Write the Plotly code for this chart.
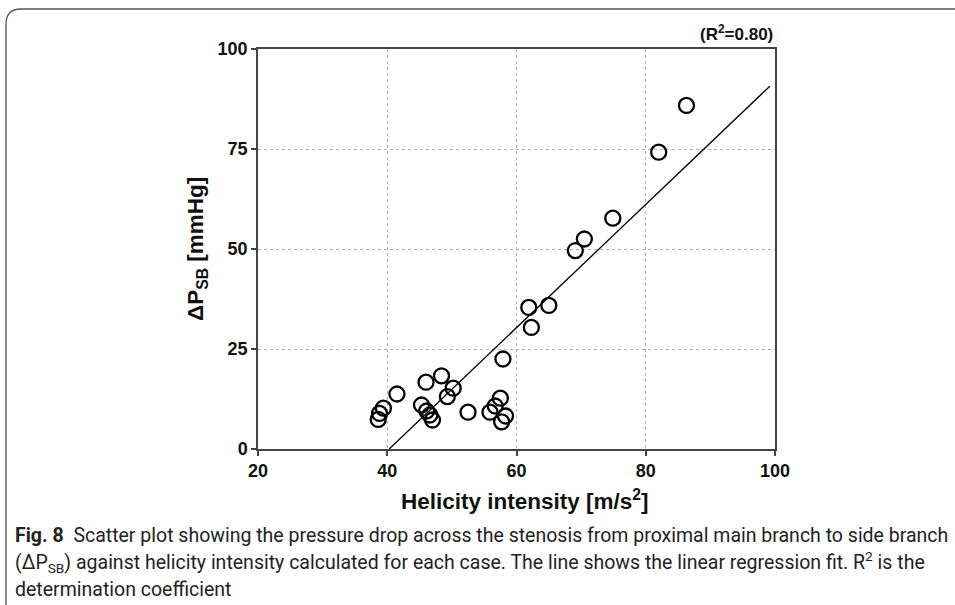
import plotly.graph_objects as go

helicity = [38.6, 38.8, 39.4, 41.5, 45.3, 46.0, 46.1, 46.6, 47.0, 48.4, 49.3, 50.2,
            52.5, 55.9, 56.7, 57.5, 57.7, 58.3, 57.9, 61.9, 62.3, 65.0,
            69.1, 70.5, 74.9, 82.0, 86.3]
dp_sb = [7.4, 8.9, 10.2, 13.75, 11.0, 16.7, 9.5, 8.5, 7.25, 18.3, 13.1, 15.2,
         9.2, 9.2, 10.75, 12.7, 6.8, 8.25, 22.5, 35.4, 30.4, 35.9,
         49.6, 52.5, 57.7, 74.2, 85.9]
fit_x = [40.3, 99.2]
fit_y = [0.0, 90.7]
x_ticks = [20, 40, 60, 80, 100]
y_ticks = [0, 25, 50, 75, 100]

W, H = 955, 605
L, R, T, B = 258, 775, 49, 449

fig = go.Figure()
fig.add_trace(go.Scatter(x=fit_x, y=fit_y, mode="lines",
                         line=dict(color="black", width=1.3), showlegend=False, cliponaxis=False))
fig.add_trace(go.Scatter(x=helicity, y=dp_sb, mode="markers",
                         marker=dict(symbol="circle-open", size=15, color="black",
                                     line=dict(width=2.3, color="black")),
                         showlegend=False, cliponaxis=False))

AR = "Liberation Sans, Arial, sans-serif"
tickfont = dict(family=AR, size=18, color="#111", weight="bold")
fig.update_xaxes(range=[20, 100], tickvals=x_ticks, ticktext=[str(v) for v in x_ticks],
                 showgrid=True, gridcolor="#b0b0b0", griddash="dot", gridwidth=1,
                 showline=True, linecolor="#444", linewidth=1.5, mirror=True,
                 ticks="outside", ticklen=5, tickcolor="#444", tickwidth=1.5,
                 tickfont=tickfont, zeroline=False)
fig.update_yaxes(range=[0, 100], tickvals=y_ticks, ticktext=[str(v) for v in y_ticks],
                 showgrid=True, gridcolor="#b0b0b0", griddash="dot", gridwidth=1,
                 showline=True, linecolor="#444", linewidth=1.5, mirror=True,
                 ticks="outside", ticklen=5, tickcolor="#444", tickwidth=1.5,
                 tickfont=tickfont, zeroline=False)

def px(p):
    return (p - L) / (R - L)

def py(p):
    return (B - p) / (B - T)

frame = "M {x0},{y0} L {x0},{y1} Q {x0},{y2} {x3},{y2} L {x4},{y2}".format(
    x0=px(6), y0=py(620), y1=py(24), y2=py(9), x3=px(21), x4=px(970))

CAP = "Roboto, sans-serif"
capfont = dict(family=CAP, size=19.5, color="#222")
titlefont = dict(family=AR, size=22.5, color="#111")
fig.update_layout(
    width=W, height=H,
    margin=dict(l=L, r=W - R, t=T, b=H - B, pad=0),
    paper_bgcolor="white", plot_bgcolor="white",
    font=dict(family=AR, size=16, color="#111"),
    shapes=[dict(type="path", path=frame, xref="paper", yref="paper",
                 line=dict(color="#555", width=1.3), layer="above")],
    annotations=[
        dict(text="<b>Helicity intensity [m/s<sup>2</sup>]</b>", xref="paper", yref="paper",
             x=px(525), y=py(500), xanchor="center", yanchor="middle", showarrow=False,
             font=titlefont),
        dict(text="<b>ΔP<sub>SB</sub> [mmHg]</b>", xref="paper", yref="paper",
             x=px(197), y=py(249), xanchor="center", yanchor="middle", showarrow=False,
             textangle=-90, font=titlefont),
        dict(text="<b>(R<sup>2</sup>=0.80)</b>", xref="paper", yref="paper",
             x=px(775), y=py(33), xanchor="right", yanchor="middle", showarrow=False,
             font=dict(family=AR, size=17, color="#111")),
        dict(text="<b>Fig. 8</b>  Scatter plot showing the pressure drop across the stenosis from proximal main branch to side branch",
             xref="paper", yref="paper", x=px(13), y=py(535), xanchor="left", yanchor="middle",
             showarrow=False, align="left", font=capfont),
        dict(text="(ΔP<sub>SB</sub>) against helicity intensity calculated for each case. The line shows the linear regression fit. R<sup>2</sup> is the",
             xref="paper", yref="paper", x=px(13), y=py(562), xanchor="left", yanchor="middle",
             showarrow=False, align="left", font=capfont),
        dict(text="determination coefficient",
             xref="paper", yref="paper", x=px(13), y=py(589), xanchor="left", yanchor="middle",
             showarrow=False, align="left", font=capfont),
    ],
)

fig.write_html("out.html", config={"displayModeBar": False},
               post_script="document.body.style.margin='0px';document.body.style.overflow='hidden';")
